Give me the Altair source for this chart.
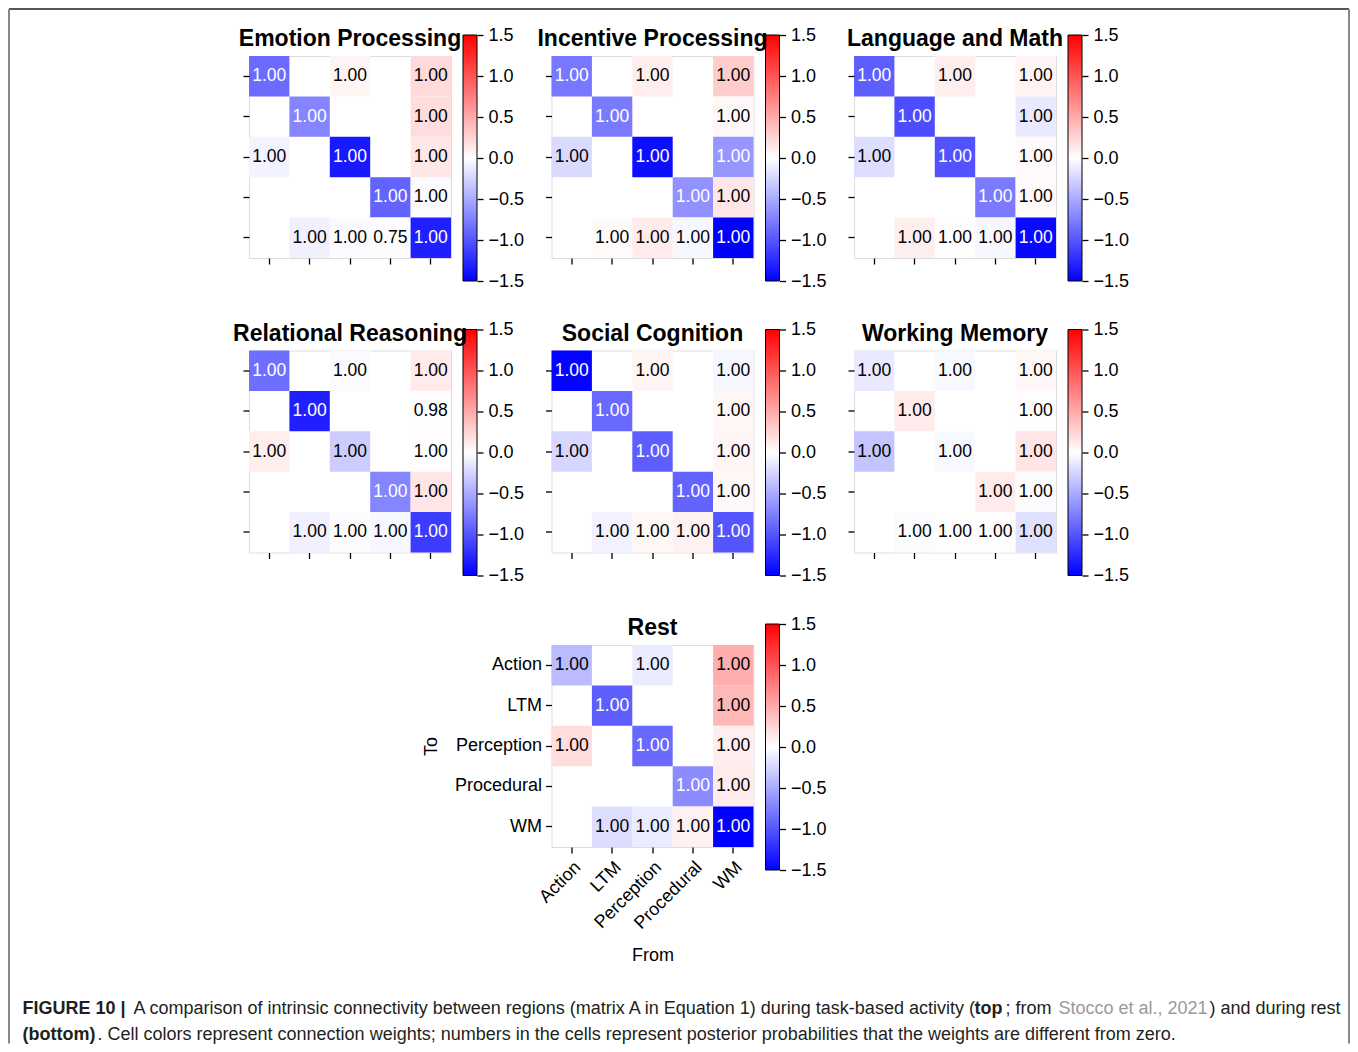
import altair as alt
import pandas as pd

# ---------------- data ----------------
REGIONS = ["Action", "LTM", "Perception", "Procedural", "WM"]

PANEL_TITLES = [
    "Emotion Processing", "Incentive Processing", "Language and Math",
    "Relational Reasoning", "Social Cognition", "Working Memory", "Rest",
]

# connection weights (rows = To, columns = From); None = not estimated (blank cell)
EMOTION_W = [
    [-0.87, None, 0.06, None, 0.22],
    [None, -0.72, None, None, 0.20],
    [-0.07, None, -1.35, None, 0.14],
    [None, None, None, -0.92, -0.03],
    [None, -0.09, -0.03, -0.02, -1.32],
]
INCENTIVE_W = [
    [-0.80, None, 0.10, None, 0.30],
    [None, -0.78, None, None, 0.04],
    [-0.22, None, -1.42, None, -0.62],
    [None, None, None, -0.65, 0.14],
    [None, 0.03, 0.12, -0.05, -1.50],
]
LANGUAGE_W = [
    [-0.95, None, 0.10, None, 0.07],
    [None, -1.05, None, None, -0.13],
    [-0.20, None, -1.02, None, 0.03],
    [None, None, None, -0.78, 0.03],
    [None, 0.10, 0.01, -0.05, -1.45],
]
RELATIONAL_W = [
    [-0.85, None, -0.03, None, 0.12],
    [None, -1.32, None, None, 0.01],
    [0.10, None, -0.30, None, 0.01],
    [None, None, None, -0.72, 0.15],
    [None, -0.09, -0.02, -0.05, -1.15],
]
SOCIAL_W = [
    [-1.48, None, 0.06, None, -0.05],
    [None, -0.88, None, None, 0.05],
    [-0.24, None, -0.95, None, 0.06],
    [None, None, None, -0.92, 0.04],
    [None, -0.08, 0.05, 0.08, -1.00],
]
WORKING_W = [
    [-0.13, None, -0.04, None, 0.05],
    [None, 0.12, None, None, 0.01],
    [-0.35, None, -0.04, None, 0.15],
    [None, None, None, 0.12, -0.02],
    [None, -0.02, 0.01, 0.01, -0.18],
]
REST_W = [
    [-0.40, None, -0.12, None, 0.48],
    [None, -0.95, None, None, 0.42],
    [0.20, None, -0.88, None, 0.10],
    [None, None, None, -0.68, 0.12],
    [None, -0.20, -0.12, 0.08, -1.50],
]

# posterior probabilities shown in the cells
P_ALL_ONE = [
    [1.00, None, 1.00, None, 1.00],
    [None, 1.00, None, None, 1.00],
    [1.00, None, 1.00, None, 1.00],
    [None, None, None, 1.00, 1.00],
    [None, 1.00, 1.00, 1.00, 1.00],
]
EMOTION_P = [
    [1.00, None, 1.00, None, 1.00],
    [None, 1.00, None, None, 1.00],
    [1.00, None, 1.00, None, 1.00],
    [None, None, None, 1.00, 1.00],
    [None, 1.00, 1.00, 0.75, 1.00],
]
RELATIONAL_P = [
    [1.00, None, 1.00, None, 1.00],
    [None, 1.00, None, None, 0.98],
    [1.00, None, 1.00, None, 1.00],
    [None, None, None, 1.00, 1.00],
    [None, 1.00, 1.00, 1.00, 1.00],
]

CBAR_RANGE = [-1.5, 1.5]
CBAR_TICKS = [-1.5, -1.0, -0.5, 0.0, 0.5, 1.0, 1.5]

CAPTION_LINE1 = [
    ("FIGURE 10 |", "bold", "#231f20"),
    ("A comparison of intrinsic connectivity between regions (matrix A in Equation 1) during task-based activity (", "normal", "#231f20"),
    ("top", "bold", "#231f20"),
    ("; from", "normal", "#231f20"),
    ("Stocco et al., 2021", "normal", "#9a9a9a"),
    (") and during rest", "normal", "#231f20"),
]
CAPTION_LINE2 = [
    ("(bottom)", "bold", "#231f20"),
    (". Cell colors represent connection weights; numbers in the cells represent posterior probabilities that the weights are different from zero.", "normal", "#231f20"),
]

# ---------------- styling / layout ----------------
FONT = "Liberation Sans"
SIZE = 202
CB_X0, CB_X1 = 214, 228          # colorbar left/right relative to panel
CB_TOP, CB_BOTTOM = -21, 225     # colorbar pixel extent relative to panel
GRADIENT = {
    "gradient": "linear", "x1": 0, "y1": 1, "x2": 0, "y2": 0,
    "stops": [
        {"offset": 0, "color": "#0000ff"},
        {"offset": 0.5, "color": "#ffffff"},
        {"offset": 1, "color": "#ff0000"},
    ],
}


def heat_df(W, P):
    rows = []
    for i, to in enumerate(REGIONS):
        for j, fr in enumerate(REGIONS):
            if W[i][j] is None:
                continue
            rows.append({"To": to, "From": fr, "w": W[i][j], "p": P[i][j]})
    return pd.DataFrame(rows)


def panel(title, W, P, labels=False):
    df = heat_df(W, P)
    common = dict(ticks=True, tickSize=6, tickWidth=1.3, tickColor="black",
                  domain=False, labelFont=FONT, labelFontSize=18, labelColor="black",
                  titleFont=FONT, titleFontSize=18, titleFontWeight="normal",
                  titleColor="black")
    if labels:
        xax = alt.Axis(labels=True, labelAngle=-45, title="From", labelPadding=5,
                       titlePadding=14, **common)
        yax = alt.Axis(labels=True, orient="left", title="To", labelPadding=4,
                       titlePadding=14, **common)
    else:
        xax = alt.Axis(labels=False, title=None, **common)
        yax = alt.Axis(labels=False, orient="left", title=None, **common)
    x = alt.X("From:N", sort=REGIONS, scale=alt.Scale(domain=REGIONS), axis=xax)
    y = alt.Y("To:N", sort=REGIONS, scale=alt.Scale(domain=REGIONS), axis=yax)
    base = alt.Chart(df)
    rect = base.mark_rect().encode(
        x=x, y=y,
        color=alt.Color("w:Q", legend=None,
                        scale=alt.Scale(domain=[CBAR_RANGE[0], 0, CBAR_RANGE[1]],
                                        range=["#0000ff", "#ffffff", "#ff0000"],
                                        interpolate="rgb")),
    )
    text = base.mark_text(font=FONT, fontSize=17.5).encode(
        x=x, y=y,
        text=alt.Text("p:Q", format=".2f"),
        color=alt.condition("datum.w < -0.55", alt.value("white"), alt.value("black")),
    )
    cb_df = pd.DataFrame({"lo": [CBAR_RANGE[0]], "hi": [CBAR_RANGE[1]]})
    cbar = alt.Chart(cb_df).mark_rect(fill=GRADIENT, stroke="black", strokeWidth=1).encode(
        x=alt.value(CB_X0), x2=alt.value(CB_X1),
        y=alt.Y("lo:Q",
                scale=alt.Scale(domain=CBAR_RANGE, range=[CB_BOTTOM, CB_TOP], nice=False, zero=False),
                axis=alt.Axis(orient="right", offset=CB_X1 - SIZE, values=CBAR_TICKS,
                              format=".1f", domain=False, tickSize=6, tickWidth=1.3,
                              tickColor="black", labelFont=FONT, labelFontSize=18,
                              labelColor="black", labelPadding=5, labelFlush=False,
                              labelOverlap=False, title=None, grid=False)),
        y2="hi:Q",
    )
    head = alt.Chart(pd.DataFrame({"k": [0]})).mark_text(
        font=FONT, fontSize=23, fontWeight="bold", color="black",
        align="center", baseline="alphabetic",
    ).encode(x=alt.value(SIZE / 2), y=alt.value(-10), text=alt.value(title))
    return alt.layer(alt.layer(rect, text), cbar, head).resolve_scale(y="independent").properties(
        width=SIZE, height=SIZE,
    )


# annotation panel: figure frame and caption (positions relative to its own origin,
# which sits where the first-column panel of the third row would be)
ORIGIN_X, ORIGIN_Y = 248.5, 644.5


def annotation():
    base = alt.Chart(pd.DataFrame({"k": [0]}))
    L, T, R, B = 8.5 - ORIGIN_X, 8.5 - ORIGIN_Y, 1348.5 - ORIGIN_X, 1043 - ORIGIN_Y
    layers = [
        base.mark_rule(color="#555555", strokeWidth=2).encode(
            x=alt.value(L), x2=alt.value(R), y=alt.value(T)),
        base.mark_rule(color="#888888", strokeWidth=2).encode(
            x=alt.value(L), y=alt.value(T), y2=alt.value(B)),
        base.mark_rule(color="#888888", strokeWidth=2).encode(
            x=alt.value(R), y=alt.value(T), y2=alt.value(B)),
    ]
    starts1 = [22, 133, 974, 1005, 1058, 1209]
    starts2 = [22, 97]
    for segs, starts, yb in ((CAPTION_LINE1, starts1, 1013), (CAPTION_LINE2, starts2, 1039)):
        for (seg, wt, col), xs in zip(segs, starts):
            layers.append(
                base.mark_text(align="left", baseline="alphabetic", font=FONT, fontSize=18,
                               fontWeight=wt, color=col).encode(
                    x=alt.value(xs - ORIGIN_X), y=alt.value(yb - ORIGIN_Y), text=alt.value(seg))
            )
    return alt.layer(*layers).properties(
        width=SIZE, height=SIZE,
        view=alt.ViewBackground(stroke="white", strokeOpacity=0),
    )


charts = [
    panel(PANEL_TITLES[0], EMOTION_W, EMOTION_P),
    panel(PANEL_TITLES[1], INCENTIVE_W, P_ALL_ONE),
    panel(PANEL_TITLES[2], LANGUAGE_W, P_ALL_ONE),
    panel(PANEL_TITLES[3], RELATIONAL_W, RELATIONAL_P),
    panel(PANEL_TITLES[4], SOCIAL_W, P_ALL_ONE),
    panel(PANEL_TITLES[5], WORKING_W, P_ALL_ONE),
    annotation(),
    panel(PANEL_TITLES[6], REST_W, P_ALL_ONE, labels=True),
]

chart = alt.concat(
    *charts, columns=3, bounds="flush",
    spacing=alt.RowColnumber(row=92.5, column=100.5),
).properties(padding=0).configure_view(stroke="black", strokeWidth=1.5).configure(
    font=FONT, background="white"
)

chart.save("out.html", embed_options={"renderer": "svg", "actions": False})
